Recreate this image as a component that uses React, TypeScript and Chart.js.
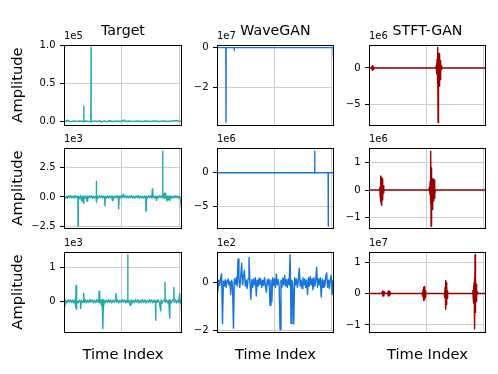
import React, { useEffect, useRef } from "react";
import { Chart, registerables } from "chart.js";

Chart.register(...registerables);

// ---------------- data (values in units of each panel's exponent) ----------------
const COLUMN_TITLES = ["Target", "WaveGAN", "STFT-GAN"];
const EXPONENTS = [
  ["1e5", "1e7", "1e6"],
  ["1e3", "1e6", "1e6"],
  ["1e3", "1e2", "1e7"],
];
const X_MAX = 16384;
const X_TICKS = [0, 8000, 16000];

// Target row 1 (x1e5)
const TARGET_R1: [number, number][] = [
  [0, 0], [300, 0.005], [520, 0.012], [700, 0], [1000, -0.004], [1400, 0.004], [1800, -0.003],
  [2200, 0.004], [2600, -0.004], [2720, 0], [2740, 0.2], [2760, -0.01], [3000, 0.003], [3400, -0.004],
  [3730, 0], [3750, 0.97], [3770, -0.01], [4200, 0.004], [4600, -0.004], [5000, 0.006], [5200, -0.012],
  [5600, 0.004], [5900, -0.01], [6300, 0.005], [6800, -0.004], [7300, 0.003], [7800, -0.005],
  [8300, 0.014], [8600, -0.004], [9000, 0.004], [9600, -0.003], [10200, 0.004], [10800, -0.004],
  [11400, 0.003], [12000, -0.005], [12600, 0.004], [13200, -0.004], [13800, 0.003], [14400, -0.004],
  [15000, 0.004], [15600, 0.01], [16000, -0.004], [16384, 0.003],
];
// Target row 2 (x1e3)
const TARGET_R2: [number, number][] = [
  [0, 0.05], [150, -0.1], [300, 0.04], [450, -0.12], [600, 0.08], [750, -0.06], [900, 0.1], [1050, -0.08],
  [1200, 0.05], [1350, -0.1], [1500, 0.12], [1650, -0.05], [1800, 0.06], [1920, -0.1], [1950, -2.45],
  [1980, 0.05], [2150, -0.15], [2300, 0.1], [2450, -0.3], [2550, 0.05], [2690, -0.53], [2750, 0.08],
  [2900, -0.1], [3050, 0.06], [3200, -0.35], [3280, 0.05], [3400, -0.08], [3550, 0.1], [3700, -0.06],
  [3850, 0.08], [4000, -0.12], [4150, 0.05], [4300, -0.07], [4460, 0.1], [4490, 1.29], [4520, -0.42],
  [4600, 0.06], [4750, -0.1], [4900, 0.08], [5050, -0.05], [5200, 0.12], [5350, -0.08], [5500, 0.06],
  [5650, -0.1], [5690, -0.74], [5750, 0.05], [5900, -0.08], [6050, 0.1], [6200, -0.12], [6350, 0.06],
  [6500, -0.05], [6650, 0.08], [6720, -0.3], [6800, 0.05], [6950, -0.1], [7100, 0.08], [7250, -0.06],
  [7400, 0.1], [7550, -0.15], [7590, -1.0], [7650, 0.06], [7800, -0.08], [7950, 0.12], [8100, -0.06],
  [8240, 0.22], [8350, -0.05], [8500, 0.1], [8650, -0.08], [8800, 0.06], [8950, -0.1], [9100, 0.08],
  [9250, -0.06], [9400, 0.12], [9550, -0.08], [9700, 0.05], [9850, -0.1], [10000, 0.08], [10150, -0.05],
  [10300, 0.1], [10450, -0.12], [10600, 0.06], [10750, -0.08], [10900, 0.05], [11050, -0.1], [11200, 0.08],
  [11350, -0.15], [11390, -1.18], [11450, 0.05], [11600, -0.08], [11750, 0.1], [11900, -0.06],
  [12050, 0.08], [12200, -0.1], [12270, 0.66], [12330, -0.05], [12450, 0.08], [12600, -0.1], [12750, 0.05],
  [12850, -0.3], [12950, 0.06], [13100, -0.08], [13250, 0.1], [13400, -0.06], [13550, 0.08],
  [13680, -0.05], [13700, 3.82], [13730, -0.1], [13850, 0.08], [13950, 0.3], [14000, -0.12], [14120, 0.3],
  [14200, -0.05], [14300, -0.32], [14400, 0.06], [14500, -0.25], [14600, 0.05], [14700, -0.3],
  [14800, 0.08], [14950, -0.1], [15100, 0.06], [15250, -0.08], [15400, 0.1], [15550, -0.06],
  [15700, 0.08], [15850, -0.1], [16000, 0.05], [16150, -0.1], [16300, -0.92], [16340, -0.1], [16384, -0.3],
];
// Target row 3 (x1e3)
const TARGET_R3: [number, number][] = [
  [0, 0.02], [120, -0.15], [240, 0.03], [400, -0.05], [560, 0.04], [720, -0.03], [880, 0.05],
  [1040, -0.04], [1200, 0.03], [1360, -0.05], [1500, 0.04], [1640, -0.2], [1670, 0.46], [1700, -0.24],
  [1800, 0.02], [1960, -0.05], [2120, 0.03], [2280, -0.04], [2310, -0.22], [2400, 0.03], [2560, -0.04],
  [2720, 0.02], [2740, 0.23], [2800, -0.03], [2960, 0.04], [3120, -0.05], [3280, 0.03], [3440, -0.04],
  [3600, 0.05], [3760, -0.03], [3920, 0.04], [4080, -0.05], [4240, 0.03], [4400, -0.04], [4560, 0.05],
  [4720, -0.03], [4840, 0.04], [4870, 0.3], [4950, -0.05], [5070, 0.04], [5200, -0.12], [5300, 0.05],
  [5380, -0.1], [5400, -0.82], [5460, -0.15], [5520, 0.04], [5680, -0.05], [5840, 0.03], [6000, -0.04],
  [6160, 0.05], [6320, -0.03], [6480, 0.04], [6640, -0.05], [6800, 0.03], [6960, -0.04], [7120, 0.05],
  [7200, 0.23], [7280, -0.03], [7440, 0.04], [7600, -0.05], [7760, 0.03], [7920, -0.04], [8080, 0.05],
  [8240, -0.03], [8400, 0.04], [8560, -0.05], [8720, 0.03], [8830, -0.02], [8850, 1.39], [8880, -0.04],
  [9000, 0.03], [9100, -0.06], [9200, -0.12], [9300, 0.04], [9460, -0.05], [9620, 0.03], [9780, -0.04],
  [9940, 0.05], [10100, -0.03], [10260, 0.04], [10420, -0.05], [10580, 0.03], [10740, -0.04],
  [10900, 0.05], [11060, -0.03], [11220, 0.04], [11380, -0.05], [11540, 0.03], [11700, -0.04],
  [11860, 0.05], [12020, -0.03], [12180, 0.04], [12340, -0.05], [12500, 0.03], [12700, -0.05],
  [12730, -0.57], [12760, 0.03], [12920, -0.04], [13080, 0.05], [13240, -0.03], [13430, -0.29],
  [13480, 0.04], [13640, -0.05], [13800, 0.03], [13980, 0.05], [14020, 0.56], [14060, -0.03],
  [14220, 0.04], [14380, -0.05], [14540, 0.03], [14680, -0.5], [14720, 0.04], [14880, -0.05],
  [15040, 0.03], [15200, 0.05], [15250, 0.41], [15300, -0.03], [15460, 0.04], [15620, -0.05],
  [15780, 0.03], [15940, -0.04], [16060, 0.23], [16120, -0.05], [16280, 0.04], [16330, -0.38], [16384, -0.1],
];

// WaveGAN row 1 (x1e7)
const WAVEGAN_R1: [number, number][] = [
  [0, 0], [1240, 0], [1260, -3.73], [1280, 0], [2390, 0], [2410, -0.13], [2430, 0],
  [16280, 0], [16310, -0.63], [16340, 0], [16384, -0.45],
];
// WaveGAN row 2 (x1e6)
const WAVEGAN_R2: [number, number][] = [
  [0, 0], [13660, 0], [13680, 3.15], [13700, 0], [15560, 0], [15580, -7.86], [15600, 0], [16384, 0],
];
// WaveGAN row 3 (x1e2), one value every 128 samples
const WAVEGAN_R3: number[] = [
  0.05, -0.35, 0.1, -0.12, 0.2, 0.36, -1.71, 0.05, -0.15, 0.12, -0.2, 0.08, 0.15, -0.1, 0.05, -0.5,
  0.1, -0.12, -1.9, 0.15, -0.08, 0.2, -0.15, 0.98, 0.1, -0.2, 0.3, 0.8, -0.1, 0.25, 0.5, -0.15,
  0.1, -0.25, 0.15, 1.04, 0.05, -0.7, 0.12, -0.2, 0.15, -0.1, 0.2, -0.56, 0.1, -0.15, 0.18, -0.08,
  0.12, -0.2, 0.1, -0.12, 0.2, -0.15, -0.4, 0.12, -0.1, 0.15, -0.95, 0.1, -0.8, 0.2, -0.12, 0.15,
  -0.2, 0.35, -0.1, 0.12, -0.15, -1.96, 0.1, -0.2, 0.18, -0.1, 0.3, -0.15, 0.12, -0.2, 0.15, -0.1,
  1.16, -1.71, 0.1, -0.15, -1.73, 0.2, -0.1, 0.15, -0.2, 0.12, 0.6, -0.15, 0.1, -0.25, 0.2, -0.1,
  0.15, -0.2, 0.1, -0.5, 0.2, -0.15, 0.25, -0.1, 0.15, -0.3, 0.2, -0.15, 0.1, 0.64, -0.2, 0.15,
  -0.1, 0.2, -0.6, 0.15, -0.2, 0.1, -0.15, 0.25, 0.4, -0.2, 0.1, -0.25, 0.15, 0.3, -0.5, 0.1, -0.55,
];
const WAVEGAN_R3_STEP = 128;

// STFT-GAN row 1 (x1e6)
const STFT_R1: [number, number][] = [
  [0, 0], [360, 0], [400, 0.25], [440, -0.3], [480, 0.3], [520, -0.3], [560, 0.25], [600, -0.2],
  [640, 0.1], [700, 0], [9350, 0], [9420, 0.3], [9450, -0.4], [9480, 0.6], [9510, -0.8], [9540, 1.2],
  [9570, -1.6], [9600, 1.8], [9630, -2.2], [9660, 2.83], [9675, -7.5], [9690, 2.0], [9720, -2.6],
  [9750, 1.9], [9780, -2.8], [9810, 1.95], [9840, -2.5], [9870, 1.8], [9900, -2.2], [9930, 1.5],
  [9960, -1.6], [9990, 1.0], [10020, -1.0], [10050, 0.6], [10080, -0.5], [10110, 0.3], [10140, -0.2],
  [10200, 0], [16384, 0],
];
// STFT-GAN row 2 (x1e6)
const STFT_R2: [number, number][] = [
  [0, 0], [1450, 0], [1520, 0.1], [1560, -0.2], [1600, 0.35], [1640, -0.4], [1680, 0.51], [1720, -0.5],
  [1760, 0.45], [1800, -0.55], [1840, 0.4], [1880, -0.35], [1920, 0.3], [1960, -0.25], [2000, 0.15],
  [2040, -0.1], [2100, 0], [8400, 0], [8480, 0.1], [8520, -0.15], [8560, 0.3], [8600, -0.5], [8640, 0.9],
  [8670, 1.4], [8700, -1.31], [8730, 0.8], [8760, -0.9], [8800, 0.6], [8840, -0.7], [8880, 0.4],
  [8920, -0.5], [8960, 0.3], [9000, -0.35], [9040, 0.4], [9080, -0.4], [9120, 0.35], [9160, -0.3],
  [9200, 0.2], [9240, -0.15], [9300, 0], [16384, 0],
];
// STFT-GAN row 3 (x1e7)
const STFT_R3: [number, number][] = [
  [0, 0], [1800, 0], [1850, 0.06], [1900, -0.07], [1950, 0.08], [2000, -0.08], [2050, 0.07],
  [2100, -0.06], [2150, 0.04], [2200, 0], [2600, 0], [2650, 0.06], [2700, -0.07], [2750, 0.08],
  [2800, -0.08], [2850, 0.07], [2900, -0.05], [2950, 0.03], [3000, -0.02], [3100, 0],
  [7450, 0], [7500, 0.05], [7540, -0.08], [7580, 0.12], [7620, -0.15], [7660, 0.2], [7700, -0.22],
  [7740, 0.22], [7780, -0.2], [7820, 0.15], [7860, -0.12], [7900, 0.08], [7940, -0.05], [8000, 0],
  [10530, 0], [10580, 0.08], [10620, -0.12], [10660, 0.2], [10700, -0.3], [10740, 0.42], [10780, -0.5],
  [10820, 0.35], [10860, -0.35], [10900, 0.2], [10940, -0.15], [10980, 0.08], [11050, 0],
  [14500, 0], [14550, 0.1], [14590, -0.15], [14630, 0.25], [14670, -0.3], [14710, 0.35], [14750, -0.4],
  [14790, 0.5], [14820, -1.13], [14850, 1.24], [14880, -0.6], [14910, 0.4], [14950, -0.35], [14990, 0.3],
  [15030, -0.25], [15070, 0.15], [15110, -0.1], [15160, 0.05], [15220, 0], [16384, 0],
];

// y-axis ticks and limits per panel [row][col]
const Y_TICKS = [
  [[0, 0.5, 1.0], [-2, 0], [-5, 0]],
  [[-2.5, 0, 2.5], [-5, 0], [-1, 0, 1]],
  [[0, 1], [-2, 0], [-1, 0, 1]],
];
const Y_DECIMALS = [
  [1, 0, 0],
  [1, 0, 0],
  [0, 0, 0],
];
const Y_LIMITS = [
  [[-0.0575, 1.01], [-3.89, 0.156], [-7.9, 3.22]],
  [[-2.64, 4.13], [-8.19, 3.7], [-1.39, 1.535]],
  [[-0.935, 1.485], [-2.08, 1.29], [-1.24, 1.34]],
];

// ---------------- styles / layout ----------------
const COLORS = ["#20aaa5", "#1674da", "#980000"];
const FONT = "'DejaVu Sans', 'Liberation Sans', sans-serif";
const COL_LEFT = [64, 217, 369];
const COL_W = [118, 117, 117];
const ROW_TOP = [42, 145, 249];
const PANEL_H = 86;
const AXW = 40;
const PT = 8;
const PR = 4;
const PB = 8;

const SERIES: { x: number; y: number }[][][] = [
  [TARGET_R1, WAVEGAN_R1, STFT_R1].map((a) => a.map(([x, y]) => ({ x, y }))),
  [TARGET_R2, WAVEGAN_R2, STFT_R2].map((a) => a.map(([x, y]) => ({ x, y }))),
  [
    TARGET_R3.map(([x, y]) => ({ x, y })),
    WAVEGAN_R3.map((y, i) => ({ x: i * WAVEGAN_R3_STEP, y })),
    STFT_R3.map(([x, y]) => ({ x, y })),
  ],
];

const framePlugin = {
  id: "frame",
  afterDatasetsDraw(chart: any) {
    const { ctx, chartArea } = chart;
    ctx.save();
    ctx.strokeStyle = "#000";
    ctx.lineWidth = 1;
    ctx.strokeRect(
      Math.round(chartArea.left) + 0.5,
      Math.round(chartArea.top) + 0.5,
      Math.round(chartArea.right - chartArea.left) - 1,
      Math.round(chartArea.bottom - chartArea.top) - 1
    );
    ctx.restore();
  },
};

function Panel({ row, col }: { row: number; col: number }) {
  const ref = useRef<HTMLCanvasElement>(null);
  const cw = AXW + COL_W[col] + PR;
  const ch = PT + PANEL_H + PB;
  useEffect(() => {
    const [ymin, ymax] = Y_LIMITS[row][col];
    const yt = Y_TICKS[row][col];
    const dec = Y_DECIMALS[row][col];
    const chart = new Chart(ref.current as HTMLCanvasElement, {
      type: "line",
      data: {
        datasets: [
          {
            data: SERIES[row][col],
            borderColor: COLORS[col],
            borderWidth: 1.4,
            pointRadius: 0,
            tension: 0,
            fill: false,
            borderJoinStyle: "round",
          } as any,
        ],
      },
      options: {
        animation: false,
        responsive: false,
        events: [],
        layout: { padding: { left: 0, top: PT, right: PR, bottom: PB } },
        plugins: { legend: { display: false }, tooltip: { enabled: false }, title: { display: false } },
        scales: {
          x: {
            type: "linear",
            min: 0,
            max: X_MAX,
            afterBuildTicks: (s: any) => {
              s.ticks = X_TICKS.map((v) => ({ value: v }));
            },
            afterFit: (s: any) => {
              s.height = 0;
            },
            ticks: { display: false },
            grid: { color: "#cccccc", lineWidth: 1, drawTicks: false },
            border: { display: false },
          },
          y: {
            type: "linear",
            min: ymin,
            max: ymax,
            afterBuildTicks: (s: any) => {
              s.ticks = yt.map((v) => ({ value: v }));
            },
            afterFit: (s: any) => {
              s.width = AXW;
            },
            ticks: {
              color: "#000",
              padding: 4.5,
              font: { family: FONT, size: 10 },
              callback: (v: any) => Number(v).toFixed(dec).replace("-", "\u2212"),
            },
            grid: { color: "#cccccc", lineWidth: 1, tickColor: "#000", tickLength: 4, tickWidth: 1 } as any,
            border: { display: false },
          },
        },
      },
      plugins: [framePlugin],
    });
    return () => chart.destroy();
  }, [row, col]);
  return (
    <canvas
      ref={ref}
      width={cw}
      height={ch}
      style={{
        position: "absolute",
        left: COL_LEFT[col] - AXW,
        top: ROW_TOP[row] - PT,
        width: cw,
        height: ch,
      }}
    />
  );
}

export default function App() {
  const cells: JSX.Element[] = [];
  for (let r = 0; r < 3; r++) for (let c = 0; c < 3; c++) cells.push(<Panel key={`${r}-${c}`} row={r} col={c} />);
  return (
    <div
      style={{
        position: "fixed",
        left: 0,
        top: 0,
        width: 498,
        height: 374,
        background: "#fff",
        overflow: "hidden",
      }}
    >
      {cells}
      <svg
        width={498}
        height={374}
        style={{ position: "absolute", left: 0, top: 0, pointerEvents: "none" }}
        fontFamily={FONT}
      >
        {COLUMN_TITLES.map((t, c) => (
          <text key={t} x={COL_LEFT[c] + COL_W[c] / 2} y={35.3} fontSize={14.2} textAnchor="middle" fill="#000">
            {t}
          </text>
        ))}
        {EXPONENTS.map((rowE, r) =>
          rowE.map((e, c) => (
            <text key={`e${r}${c}`} x={COL_LEFT[c]} y={ROW_TOP[r] - 2.8} fontSize={10} fill="#000">
              {e}
            </text>
          ))
        )}
        {[0, 1, 2].map((r) => {
          const cy = ROW_TOP[r] + PANEL_H / 2;
          return (
            <text
              key={`a${r}`}
              x={22}
              y={cy}
              fontSize={14.7}
              textAnchor="middle"
              transform={`rotate(-90 22 ${cy})`}
              fill="#000"
            >
              Amplitude
            </text>
          );
        })}
        {[0, 1, 2].map((c) => (
          <text key={`t${c}`} x={COL_LEFT[c] + COL_W[c] / 2} y={358.5} fontSize={14.7} textAnchor="middle" fill="#000">
            Time Index
          </text>
        ))}
      </svg>
    </div>
  );
}
